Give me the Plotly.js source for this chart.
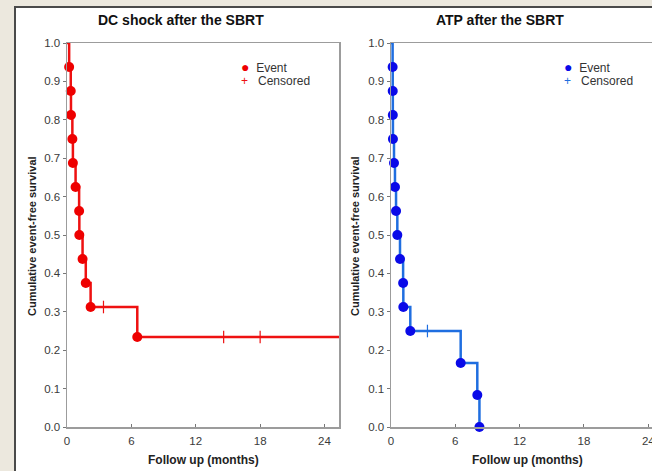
<!DOCTYPE html>
<html>
<head>
<meta charset="utf-8">
<script src="https://cdn.plot.ly/plotly-3.0.1.min.js"></script>
<style>html,body{margin:0;padding:0;overflow:hidden;background:#ece8de;}#chart{width:652px;height:471px;}</style>
</head>
<body>
<div id="chart"></div>
<script>
// DC shock after the SBRT
const dcEventTimes = [0.2, 0.35, 0.37, 0.5, 0.55, 0.8, 1.13, 1.15, 1.45, 1.75, 2.2, 6.55];
const dcEventSurv  = [0.9375, 0.875, 0.8125, 0.75, 0.6875, 0.625, 0.5625, 0.5, 0.4375, 0.375, 0.3125, 0.2344];
const dcCensTimes  = [3.4, 14.6, 18.0];
const dcCensSurv   = [0.3125, 0.2344, 0.2344];
const dcEndTime    = 26;

// ATP after the SBRT
const atpEventTimes = [0.15, 0.16, 0.17, 0.18, 0.28, 0.37, 0.47, 0.59, 0.84, 1.13, 1.15, 1.8, 6.5, 8.05, 8.25];
const atpEventSurv  = [0.9375, 0.875, 0.8125, 0.75, 0.6875, 0.625, 0.5625, 0.5, 0.4375, 0.375, 0.3125, 0.25, 0.1667, 0.0833, 0];
const atpCensTimes  = [3.4];
const atpCensSurv   = [0.25];

const xTicks = [0, 6, 12, 18, 24];
const yTicks = [0, 0.1, 0.2, 0.3, 0.4, 0.5, 0.6, 0.7, 0.8, 0.9, 1.0];

const W = 652, H = 471;
const px = v => v / W;
const py = v => 1 - v / H;
const FONT = 'Liberation Sans, Arial, sans-serif';

function stepTrace(times, surv, endT, color, xa, ya) {
  const x = [0].concat(times);
  const y = [1].concat(surv);
  if (endT !== null) { x.push(endT); y.push(surv[surv.length - 1]); }
  return {x, y, type: 'scatter', mode: 'lines', line: {shape: 'hv', color, width: 2.5},
          xaxis: xa, yaxis: ya, showlegend: false, hoverinfo: 'skip'};
}
function eventTrace(times, surv, color, xa, ya) {
  return {x: times, y: surv, type: 'scatter', mode: 'markers',
          marker: {symbol: 'circle', size: 10, color}, xaxis: xa, yaxis: ya, showlegend: false, cliponaxis: false};
}
function censTrace(times, surv, color, xa, ya) {
  return {x: times, y: surv, type: 'scatter', mode: 'markers',
          marker: {symbol: 'line-ns-open', size: 9, color, line: {color, width: 1.2}}, xaxis: xa, yaxis: ya, showlegend: false};
}

const red = '#ee1111', redDot = '#ee0000';
const blueLine = '#1f6ee0', blueDot = '#0a0ae8';

const data = [
  stepTrace(dcEventTimes, dcEventSurv, dcEndTime, red, 'x', 'y'),
  eventTrace(dcEventTimes, dcEventSurv, redDot, 'x', 'y'),
  censTrace(dcCensTimes, dcCensSurv, red, 'x', 'y'),
  stepTrace(atpEventTimes, atpEventSurv, null, blueLine, 'x2', 'y2'),
  eventTrace(atpEventTimes, atpEventSurv, blueDot, 'x2', 'y2'),
  censTrace(atpCensTimes, atpCensSurv, blueLine, 'x2', 'y2')
];

const tickFont = {family: FONT, size: 11.5, color: '#3a3a3a'};
const axisLine = '#9c9c9c';
function xAxis(domain, range) {
  return {domain, range, tickvals: xTicks, ticktext: xTicks.map(String), showgrid: false, zeroline: false,
          showline: true, linecolor: axisLine, linewidth: 1.5, mirror: true, ticks: 'inside', ticklen: 3,
          tickcolor: '#777', tickfont: tickFont, ticklabeloverflow: 'allow', ticklabelstandoff: 3, fixedrange: true};
}
function yAxis(domain, anchor) {
  return {domain, range: [0, 1], anchor, tickvals: yTicks, ticktext: yTicks.map(v => v.toFixed(1)),
          showgrid: false, zeroline: false, showline: true, linecolor: axisLine, linewidth: 1.5,
          ticks: 'outside', ticklen: 3, tickcolor: '#777', tickfont: tickFont, ticklabelstandoff: 0, fixedrange: true};
}

function ann(text, x, y, size, extra) {
  return Object.assign({text, x: px(x), y: py(y), xref: 'paper', yref: 'paper', showarrow: false,
    xanchor: 'center', yanchor: 'middle', font: {family: FONT, size, color: '#222'}}, extra || {});
}

const ydom = [py(427), py(43)];
const layout = {
  width: W, height: H,
  margin: {l: 0, r: 0, t: 0, b: 0},
  paper_bgcolor: '#ece8de',
  plot_bgcolor: 'rgba(0,0,0,0)',
  showlegend: false,
  xaxis: Object.assign(xAxis([px(67), px(339)], [0, 25.35]), {anchor: 'y'}),
  yaxis: Object.assign(yAxis(ydom, 'x'), {mirror: true}),
  xaxis2: Object.assign(xAxis([px(391), 1], [0, (652 - 391) / 10.72]), {anchor: 'y2'}),
  yaxis2: yAxis(ydom, 'x2'),
  shapes: [
    {type: 'rect', xref: 'paper', yref: 'paper', x0: px(15), x1: px(720), y0: py(7), y1: py(520),
     fillcolor: '#ffffff', line: {color: '#4a4a4a', width: 2}, layer: 'below'}
  ],
  annotations: [
    ann('<b>DC shock after the SBRT</b>', 181, 20, 14, {font: {family: FONT, size: 14, color: '#111'}}),
    ann('<b>ATP after the SBRT</b>', 500, 20, 14, {font: {family: FONT, size: 14, color: '#111'}}),
    ann('<b>Cumulative event-free survival</b>', 32, 236, 11, {textangle: -90}),
    ann('<b>Cumulative event-free survival</b>', 355, 236, 11, {textangle: -90}),
    ann('<b>Follow up (months)</b>', 203, 460, 12),
    ann('<b>Follow up (months)</b>', 527, 460, 12),
    // legends
    ann('<span style="color:#ee0000;font-size:14px">●</span>  Event', 239, 67, 12, {xanchor: 'left', font: {family: FONT, size: 12, color: '#333'}}),
    ann('<span style="color:#ee1111">+</span>   Censored', 239, 81, 12, {xanchor: 'left', font: {family: FONT, size: 12, color: '#333'}}),
    ann('<span style="color:#0a0ae8;font-size:14px">●</span>  Event', 562, 67, 12, {xanchor: 'left', font: {family: FONT, size: 12, color: '#333'}}),
    ann('<span style="color:#1f6ee0">+</span>   Censored', 562, 81, 12, {xanchor: 'left', font: {family: FONT, size: 12, color: '#333'}})
  ]
};

Plotly.newPlot('chart', data, layout, {displayModeBar: false, staticPlot: true});
</script>
</body>
</html>
